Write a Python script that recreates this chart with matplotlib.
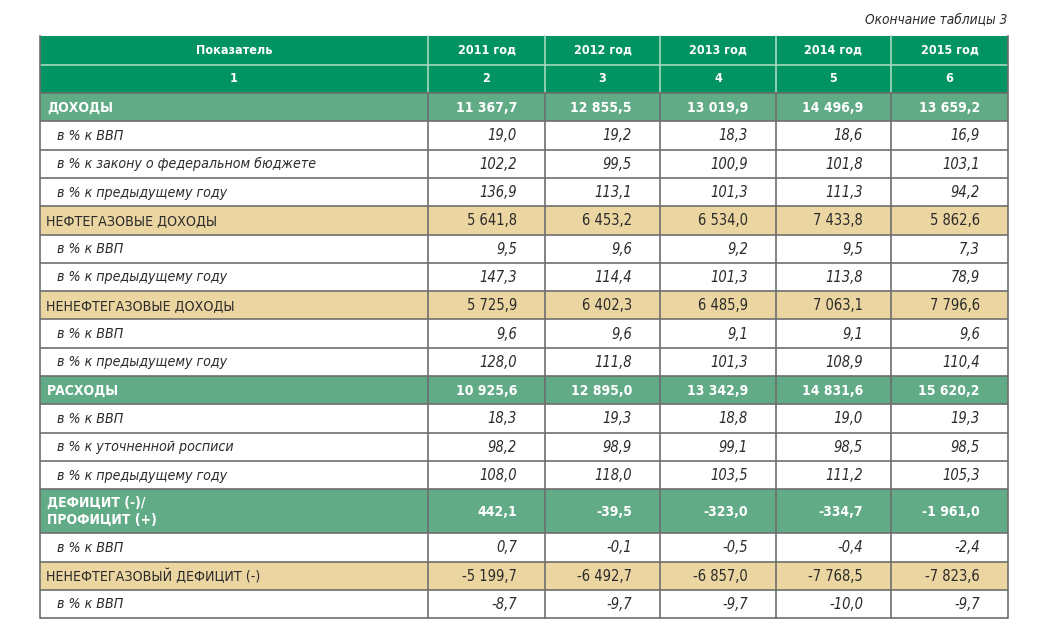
import matplotlib
matplotlib.use("Agg")
import matplotlib.pyplot as plt
from matplotlib import font_manager as fm
from matplotlib.patches import Rectangle

# ---------------- data ----------------
title_note = "Окончание таблицы 3"
header_labels = ["Показатель", "2011 год", "2012 год", "2013 год", "2014 год", "2015 год"]
header_numbers = ["1", "2", "3", "4", "5", "6"]

row_labels = [
    "ДОХОДЫ",
    "в % к ВВП",
    "в % к закону о федеральном бюджете",
    "в % к предыдущему году",
    "НЕФТЕГАЗОВЫЕ ДОХОДЫ",
    "в % к ВВП",
    "в % к предыдущему году",
    "НЕНЕФТЕГАЗОВЫЕ ДОХОДЫ",
    "в % к ВВП",
    "в % к предыдущему году",
    "РАСХОДЫ",
    "в % к ВВП",
    "в % к уточненной росписи",
    "в % к предыдущему году",
    "ДЕФИЦИТ (-)/\nПРОФИЦИТ (+)",
    "в % к ВВП",
    "НЕНЕФТЕГАЗОВЫЙ ДЕФИЦИТ (-)",
    "в % к ВВП",
]
row_kinds = ["green", "sub", "sub", "sub", "tan", "sub", "sub", "tan", "sub", "sub",
             "green", "sub", "sub", "sub", "green", "sub", "tan", "sub"]

y2011 = [11367.7, 19.0, 102.2, 136.9, 5641.8, 9.5, 147.3, 5725.9, 9.6, 128.0,
         10925.6, 18.3, 98.2, 108.0, 442.1, 0.7, -5199.7, -8.7]
y2012 = [12855.5, 19.2, 99.5, 113.1, 6453.2, 9.6, 114.4, 6402.3, 9.6, 111.8,
         12895.0, 19.3, 98.9, 118.0, -39.5, -0.1, -6492.7, -9.7]
y2013 = [13019.9, 18.3, 100.9, 101.3, 6534.0, 9.2, 101.3, 6485.9, 9.1, 101.3,
         13342.9, 18.8, 99.1, 103.5, -323.0, -0.5, -6857.0, -9.7]
y2014 = [14496.9, 18.6, 101.8, 111.3, 7433.8, 9.5, 113.8, 7063.1, 9.1, 108.9,
         14831.6, 19.0, 98.5, 111.2, -334.7, -0.4, -7768.5, -10.0]
y2015 = [13659.2, 16.9, 103.1, 94.2, 5862.6, 7.3, 78.9, 7796.6, 9.6, 110.4,
         15620.2, 19.3, 98.5, 105.3, -1961.0, -2.4, -7823.6, -9.7]
year_values = [y2011, y2012, y2013, y2014, y2015]

# ---------------- fonts ----------------
ttf = fm.fontManager.ttflist
names = {f.name for f in ttf}
font_kw = {}
if "Liberation Sans Narrow" in names:
    font_kw = dict(family="Liberation Sans Narrow")
elif any(f.name == "DejaVu Sans" and "condensed" in str(f.stretch).lower() for f in ttf):
    font_kw = dict(family="DejaVu Sans", stretch="condensed")
elif "Roboto Condensed" in names:
    font_kw = dict(family="Roboto Condensed")
else:
    font_kw = dict(family="Liberation Sans")


def fmt(v):
    s = f"{abs(v):,.1f}".replace(",", " ").replace(".", ",")
    return ("-" if v < 0 else "") + s


# ---------------- layout (pixels) ----------------
W, H = 1045, 633
col_edges = [40, 428, 545, 660, 776, 891, 1008]
hdr_top, hdr_mid, hdr_bot = 36, 64.5, 93
row_h = 28.3
def_h = 44

C_HDR = "#019462"
C_GREEN = "#62AB87"
C_TAN = "#EBD6A2"
C_LINE = "#6E6E6E"
C_HLINE = "#A8D8BE"
C_TEXT = "#2B2B2B"

FS_LABEL = 10.2
FS_NUM = 10.5
FS_BOLD = 10.0
FS_HDR = 9.0

fig = plt.figure(figsize=(W / 100, H / 100), dpi=100)
ax = fig.add_axes([0, 0, 1, 1])
ax.set_xlim(0, W)
ax.set_ylim(H, 0)
ax.axis("off")

x0, x1 = col_edges[0], col_edges[-1]

# title note
ax.text(x1 - 1, 20, title_note, ha="right", va="center", style="italic",
        fontsize=9.8, color=C_TEXT, **font_kw)

# header
ax.add_patch(Rectangle((x0, hdr_top), x1 - x0, hdr_bot - hdr_top, color=C_HDR, lw=0))
for i in range(6):
    cx = (col_edges[i] + col_edges[i + 1]) / 2
    ax.text(cx, (hdr_top + hdr_mid) / 2, header_labels[i], ha="center", va="center",
            color="white", fontweight="bold", fontsize=FS_HDR, **font_kw)
    ax.text(cx, (hdr_mid + hdr_bot) / 2, header_numbers[i], ha="center", va="center",
            color="white", fontweight="bold", fontsize=FS_HDR, **font_kw)
ax.plot([x0, x1], [hdr_mid, hdr_mid], color=C_HLINE, lw=1.2)
for xe in col_edges[1:-1]:
    ax.plot([xe, xe], [hdr_top, hdr_bot], color=C_HLINE, lw=1.2)

# body rows
y = hdr_bot
row_tops = []
for r, (lab, kind) in enumerate(zip(row_labels, row_kinds)):
    h = def_h if "\n" in lab else row_h
    row_tops.append(y)
    fc = {"green": C_GREEN, "tan": C_TAN, "sub": "white"}[kind]
    ax.add_patch(Rectangle((x0, y), x1 - x0, h, color=fc, lw=0))
    cy = y + h / 2
    if kind == "green":
        tkw = dict(color="white", fontweight="bold")
        lx = x0 + 7
        fs_l, fs_n = FS_BOLD, FS_BOLD
    elif kind == "tan":
        tkw = dict(color=C_TEXT)
        lx = x0 + 6
        fs_l, fs_n = FS_LABEL, FS_NUM
    else:
        tkw = dict(color=C_TEXT, style="italic")
        lx = x0 + 17
        fs_l, fs_n = FS_LABEL, FS_NUM
    ax.text(lx, cy + 0.5, lab, ha="left", va="center", fontsize=fs_l,
            linespacing=1.3, **tkw, **font_kw)
    for c, vals in enumerate(year_values):
        rx = col_edges[c + 2] - 28
        ax.text(rx, cy + 0.5, fmt(vals[r]), ha="right", va="center", fontsize=fs_n,
                **tkw, **font_kw)
    y += h
body_bot = y

# grid lines
for yt in row_tops + [body_bot]:
    ax.plot([x0, x1], [yt, yt], color=C_LINE, lw=1.2, solid_capstyle="butt")
for xe in col_edges[1:-1]:
    ax.plot([xe, xe], [hdr_bot, body_bot], color=C_LINE, lw=1.2)
ax.plot([x0, x0], [hdr_top, body_bot], color=C_LINE, lw=1.2)
ax.plot([x1, x1], [hdr_top, body_bot], color=C_LINE, lw=1.2)

fig.savefig("out.png", dpi=100, facecolor="white")
